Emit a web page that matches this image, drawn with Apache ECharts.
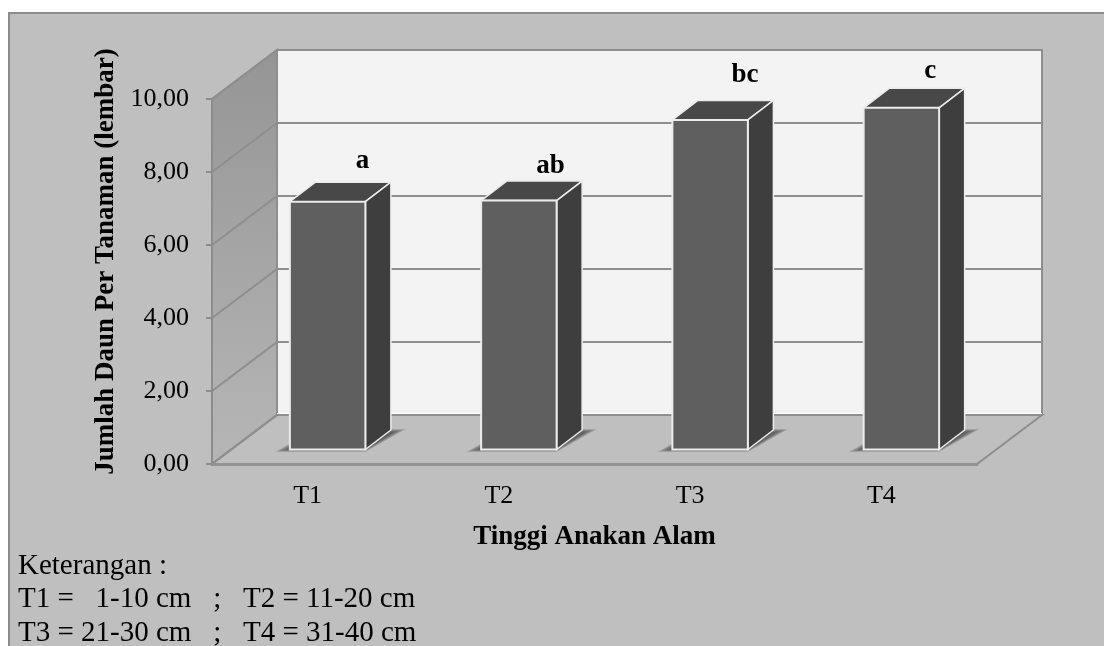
<!DOCTYPE html>
<html>
<head>
<meta charset="utf-8">
<style>
html, body { margin: 0; padding: 0; background: #fff; overflow: hidden; }
#chart { width: 1104px; height: 646px; }
</style>
<script src="https://cdn.jsdelivr.net/npm/echarts@6/dist/echarts.min.js"></script>
</head>
<body>
<div id="chart"></div>
<script>
const categories = ['T1', 'T2', 'T3', 'T4']
const values = [6.79, 6.82, 9.03, 9.36]
const letters = ['a', 'ab', 'bc', 'c']
const tickValues = [0, 2, 4, 6, 8, 10]
const notes = ['Keterangan :', 'T1 =   1-10 cm   ;   T2 = 11-20 cm', 'T3 = 21-30 cm   ;   T4 = 31-40 cm']

const FONT = '"Liberation Serif", "Times New Roman", serif'
// kedalaman dinding dan batang (piksel)
const WALL_DX = 65, WALL_DY = 49
const BAR_DX = 25.5, BAR_DY = 19.5
const BAR_SHIFT_X = 20, BAR_SHIFT_Y = 14.5
const BAR_W = 75.5
// geser huruf dari pojok kanan atas batang
const letterShift = [[-3, -41], [-6, -35], [-3, -45], [-9, -37]]

const GRID_LINE = '#8e8e8e'

let myChart = echarts.init(document.getElementById('chart'))

function poly (points, style, extra) {
    return Object.assign({ type: 'polygon', shape: { points }, style }, extra || {})
}

// dinding belakang, dinding samping, lantai, garis kisi
function renderWalls (params, api) {
    let x0 = params.coordSys.x
    let x1 = x0 + params.coordSys.width
    let y0 = api.coord([0, 0])[1]
    let y10 = api.coord([0, 10])[1]
    let dx = WALL_DX, dy = WALL_DY
    let kids = [
        poly([[x0 + dx, y10 - dy], [x1 + dx, y10 - dy], [x1 + dx, y0 - dy], [x0 + dx, y0 - dy]],
            { fill: '#f3f3f3', stroke: GRID_LINE, lineWidth: 2 }),
        poly([[x0, y10], [x0 + dx, y10 - dy], [x0 + dx, y0 - dy], [x0, y0]],
            {
                fill: new echarts.graphic.LinearGradient(0, 0, 0, 1, [
                    { offset: 0, color: '#959595' }, { offset: 1, color: '#b6b6b6' }
                ]),
                stroke: GRID_LINE,
                lineWidth: 2
            }),
        poly([[x0, y0], [x1, y0], [x1 + dx, y0 - dy], [x0 + dx, y0 - dy]],
            { fill: '#bfbfbf', stroke: GRID_LINE, lineWidth: 2 })
    ]
    tickValues.forEach(function (t) {
        let y = api.coord([0, t])[1]
        kids.push({
            type: 'polyline',
            shape: { points: [[x0, y], [x0 + dx, y - dy], [x1 + dx, y - dy]] },
            style: { fill: 'none', stroke: GRID_LINE, lineWidth: 2 }
        })
    })
    // tepi bawah dinding belakang berwarna putih
    let yb = y0 - dy
    kids.push({
        type: 'line',
        shape: { x1: x0 + dx, y1: yb - 1.5, x2: x1 + dx, y2: yb - 1.5 },
        style: { stroke: '#fff', lineWidth: 1 }
    })
    return { type: 'group', children: kids }
}

function renderBar (params, api) {
    let base = api.coord([api.value(0), 0])
    let top = api.coord([api.value(0), api.value(1)])
    let h = base[1] - top[1]
    let l = base[0] - BAR_W / 2 + BAR_SHIFT_X
    let r = l + BAR_W
    let b = base[1] - BAR_SHIFT_Y
    let t = b - h
    let dx = BAR_DX, dy = BAR_DY
    let edge = '#ececec'
    let kids = []
    // bayangan di lantai, ditumpuk supaya tepinya pudar
    for (let g = 6; g >= 0; g--) {
        kids.push(poly([
            [l - 3 - g * 2, b + g * 0.4],
            [r, b + g * 0.4],
            [r + dx + 3 + g * 2, b - dy + 2 - g * 0.5],
            [l + dx, b - dy + 2 - g * 0.5]
        ], { fill: 'rgba(60,60,60,0.16)' }))
    }
    kids.push(
        poly([[l, t], [l + dx, t - dy], [r + dx, t - dy], [r, t]],
            { fill: '#484848', stroke: edge, lineWidth: 1.5 }),
        poly([[r, t], [r + dx, t - dy], [r + dx, b - dy], [r, b]],
            { fill: '#3e3e3e', stroke: edge, lineWidth: 1.5 }),
        {
            type: 'rect',
            shape: { x: l, y: t, width: BAR_W, height: h },
            style: { fill: '#5f5f5f', stroke: edge, lineWidth: 2 }
        },
        {
            type: 'text',
            style: {
                x: r + letterShift[params.dataIndex][0],
                y: t + letterShift[params.dataIndex][1],
                text: letters[params.dataIndex],
                font: 'bold 27px ' + FONT,
                fill: '#000',
                align: 'center',
                verticalAlign: 'middle'
            }
        }
    )
    return { type: 'group', children: kids }
}

myChart.setOption({
    animation: false,
    backgroundColor: '#fff',
    graphic: [
        {
            type: 'rect',
            z: -10,
            shape: { x: 9, y: 13, width: 1200, height: 700 },
            style: { fill: '#bfbfbf', stroke: '#8c8c8c', lineWidth: 2 }
        }
    ].concat(notes.map(function (s, i) {
        return {
            type: 'text',
            left: 18,
            top: 551.5 + i * 33.5,
            z: 10,
            style: { text: s, font: '29px ' + FONT, fill: '#000' }
        }
    })),
    grid: { left: 212, right: 127, top: 99, bottom: 182 },
    xAxis: {
        type: 'category',
        data: categories,
        name: 'Tinggi Anakan Alam',
        nameLocation: 'middle',
        nameGap: 60,
        nameTextStyle: { fontFamily: FONT, fontWeight: 'bold', fontSize: 27, color: '#000' },
        axisLine: { lineStyle: { color: '#939393', width: 3 } },
        axisTick: { length: 8, lineStyle: { color: '#8c8c8c', width: 2 } },
        axisLabel: { fontFamily: FONT, fontSize: 26, color: '#000', margin: 19 },
        z: 5
    },
    yAxis: {
        type: 'value',
        min: 0,
        max: 10,
        interval: 2,
        name: 'Jumlah Daun Per Tanaman (lembar)',
        nameLocation: 'middle',
        nameGap: 90,
        nameTextStyle: { fontFamily: FONT, fontWeight: 'bold', fontSize: 27, color: '#000', padding: [0, 0, 0, 40] },
        axisLine: { show: true, lineStyle: { color: '#8c8c8c', width: 2 } },
        axisTick: { show: true, length: 6, lineStyle: { color: '#8c8c8c', width: 2 } },
        axisLabel: {
            fontFamily: FONT,
            fontSize: 26,
            color: '#000',
            margin: 23,
            padding: [4, 0, 0, 0],
            formatter: function (v) { return v.toFixed(2).replace('.', ',') }
        },
        splitLine: { show: false },
        z: 5
    },
    series: [
        {
            type: 'custom',
            z: 1,
            silent: true,
            clip: false,
            renderItem: renderWalls,
            data: [[0, 0]]
        },
        {
            type: 'custom',
            z: 2,
            clip: false,
            renderItem: renderBar,
            data: categories.map(function (c, i) { return [i, values[i]] })
        }
    ]
})
</script>
</body>
</html>
